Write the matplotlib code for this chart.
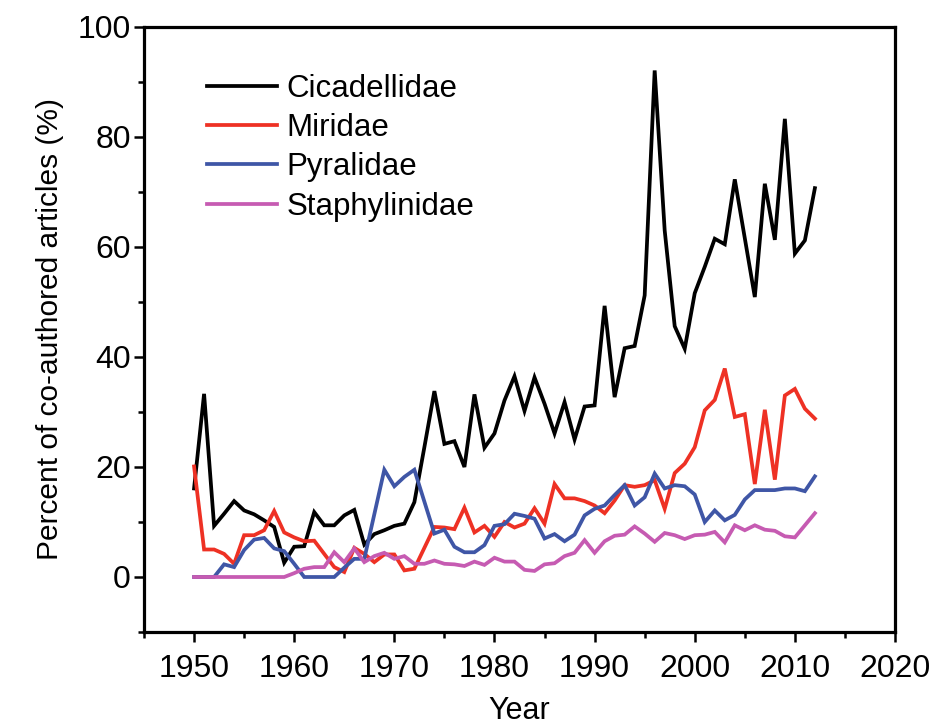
import matplotlib
matplotlib.use("Agg")
import matplotlib.pyplot as plt
from matplotlib.ticker import MultipleLocator

years = list(range(1950, 2013))

cicadellidae = [16.1, 33.3, 9.3, 11.5, 13.8, 12.1, 11.4, 10.3, 9.1, 2.6,
                5.5, 5.6, 11.8, 9.4, 9.4, 11.2, 12.2, 5.9, 7.8, 8.5,
                9.3, 9.7, 13.6, 23.6, 33.8, 24.2, 24.7, 20.0, 33.2, 23.5,
                26.1, 32.1, 36.5, 30.2, 36.3, 31.5, 26.1, 31.8, 25.0, 31.0,
                31.2, 49.3, 32.7, 41.6, 42.0, 51.2, 92.1, 63.0, 45.6, 41.5,
                51.6, 56.4, 61.5, 60.5, 72.3, 61.6, 50.9, 71.5, 61.3, 83.3,
                58.8, 61.2, 70.7]

miridae = [20.1, 5.0, 5.0, 4.2, 2.4, 7.6, 7.6, 8.5, 12.0, 8.1,
           7.2, 6.5, 6.6, 4.2, 1.8, 0.9, 5.3, 4.2, 2.7, 4.1,
           4.1, 1.2, 1.5, 5.3, 9.1, 9.0, 8.7, 12.6, 8.1, 9.3,
           7.3, 10.0, 9.0, 9.7, 12.5, 9.7, 16.9, 14.3, 14.3, 13.8,
           13.0, 11.6, 13.9, 16.7, 16.4, 16.7, 17.6, 12.4, 18.9, 20.6,
           23.6, 30.3, 32.2, 37.9, 29.1, 29.6, 16.9, 30.4, 17.7, 33.0,
           34.2, 30.6, 28.8]

pyralidae = [0.0, 0.0, 0.0, 2.3, 1.8, 4.9, 6.8, 7.1, 5.2, 4.7,
             2.4, 0.0, 0.0, 0.0, 0.0, 1.7, 3.3, 3.3, 11.4, 19.5,
             16.5, 18.2, 19.5, 13.7, 7.9, 8.6, 5.5, 4.5, 4.5, 5.8,
             9.3, 9.6, 11.5, 11.1, 10.6, 7.0, 7.8, 6.5, 7.7, 11.2,
             12.4, 13.0, 14.9, 16.7, 13.0, 14.5, 18.8, 16.1, 16.7, 16.5,
             15.0, 10.0, 12.1, 10.3, 11.3, 14.1, 15.8, 15.8, 15.8, 16.1,
             16.1, 15.6, 18.3]

staphylinidae = [0.0, 0.0, 0.0, 0.0, 0.0, 0.0, 0.0, 0.0, 0.0, 0.0,
                 0.7, 1.5, 1.8, 1.8, 4.5, 2.7, 5.2, 2.7, 3.8, 4.4,
                 3.3, 3.8, 2.4, 2.4, 3.0, 2.4, 2.3, 2.0, 2.8, 2.2,
                 3.5, 2.8, 2.8, 1.3, 1.1, 2.3, 2.5, 3.8, 4.4, 6.7,
                 4.4, 6.5, 7.5, 7.7, 9.2, 7.9, 6.4, 8.0, 7.6, 6.9,
                 7.6, 7.7, 8.2, 6.3, 9.4, 8.5, 9.4, 8.6, 8.4, 7.4,
                 7.2, 9.4, 11.6]

series_names = ["Cicadellidae", "Miridae", "Pyralidae", "Staphylinidae"]
series_values = [cicadellidae, miridae, pyralidae, staphylinidae]
colors = ["#000000", "#EE3124", "#3F56A6", "#C65BB2"]

plt.rcParams["font.family"] = ["Liberation Sans", "DejaVu Sans"]

fig = plt.figure(figsize=(9.32, 7.28), dpi=100)
ax = fig.add_axes([144 / 932, 1 - 632 / 728, 751 / 932, 605 / 728])

for name, vals, c in zip(series_names, series_values, colors):
    ax.plot(years, vals, color=c, lw=2.7, label=name, solid_joinstyle="miter")

ax.set_xlim(1945, 2020)
ax.set_ylim(-10, 100)
ax.xaxis.set_major_locator(MultipleLocator(10))
ax.xaxis.set_minor_locator(MultipleLocator(5))
ax.yaxis.set_major_locator(MultipleLocator(20))
ax.yaxis.set_minor_locator(MultipleLocator(10))

for s in ax.spines.values():
    s.set_linewidth(2.3)

ax.tick_params(axis="both", which="major", direction="out", length=7.5,
               width=1.8, labelsize=23)
ax.tick_params(axis="x", which="major", pad=8)
ax.tick_params(axis="y", which="major", pad=2)
ax.tick_params(axis="both", which="minor", direction="out", length=4,
               width=1.8)
ax.tick_params(top=False, right=False, which="both")

ax.set_xlabel("Year", fontsize=22, labelpad=9)
ax.set_ylabel("Percent of co-authored articles (%)", fontsize=21.5, labelpad=10)

leg = ax.legend(loc="upper left", bbox_to_anchor=(0.084, 0.923), frameon=False,
                fontsize=22.5, borderaxespad=0, borderpad=0,
                handlelength=2.25, handletextpad=0.3, labelspacing=0.30)
for line in leg.get_lines():
    line.set_linewidth(2.7)

fig.savefig("out.png", dpi=100)
